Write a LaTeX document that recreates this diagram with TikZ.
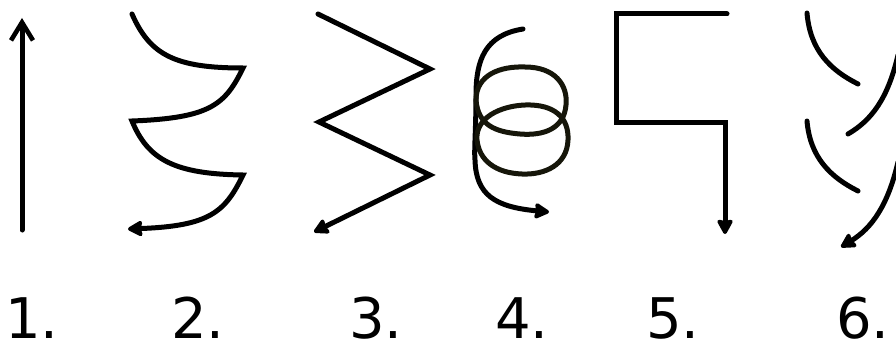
\documentclass[tikz,border=0pt]{standalone}
\usepackage{fontspec}
\setmainfont{DejaVu Sans}
\usetikzlibrary{arrows.meta}
\definecolor{loopink}{RGB}{22,22,10}
\begin{document}
\begin{tikzpicture}[x=1pt,y=-1pt,
  stroke/.style={line width=5pt,line cap=round,line join=miter},
  filltip/.style={-{Stealth[length=17pt,width=18pt,inset=2pt,round]}},
  opentip/.style={-{Straight Barb[length=18pt,width=22pt,line width=4.6pt]}},
  lbl/.style={anchor=base,font=\fontsize{56}{56}\selectfont,inner sep=0pt}]
\useasboundingbox (0,0) rectangle (896,345);
% 1
\draw[stroke,opentip] (22,230) -- (22,18);
% 2
\draw[stroke,filltip] (132,14) .. controls (150,55) and (175,68) .. (243,68)
  .. controls (225,105) and (210,118) .. (132,121)
  .. controls (148,160) and (175,174) .. (243,175)
  .. controls (225,212) and (210,226) .. (128,229);
% 3
\draw[stroke,filltip] (318,14) -- (430,69) -- (319,122) -- (430,175) -- (314,232);
% 4
\draw[stroke,filltip] (523,29) .. controls (485,35) and (476,60) .. (476,95)
  .. controls (476,130) and (474,150) .. (475,160)
  .. controls (476,195) and (495,207) .. (549,212);
\draw[stroke,color=loopink] (476,100) .. controls (476,75) and (500,66) .. (525,67)
  .. controls (555,67) and (568,85) .. (566,105)
  .. controls (564,128) and (545,136) .. (520,134)
  .. controls (495,132) and (478,125) .. (476,100) -- cycle;
\draw[stroke,color=loopink] (477,140) .. controls (475,118) and (500,106) .. (525,105)
  .. controls (555,104) and (569,118) .. (568,140)
  .. controls (567,165) and (545,175) .. (522,174)
  .. controls (495,173) and (479,160) .. (477,140) -- cycle;
% 5
\draw[stroke,filltip] (727,14) -- (616,14) -- (616,122) -- (725,122) -- (725,234);
% 6
\draw[stroke] (807,13) .. controls (810,50) and (830,70) .. (858,84);
\draw[stroke] (898,55) .. controls (888,98) and (872,120) .. (848,134);
\draw[stroke] (807,121) .. controls (810,157) and (830,177) .. (858,191);
\draw[stroke,filltip] (898,162) .. controls (888,205) and (872,228) .. (841,247);
% labels
\node[lbl] (l1) at (32,338) {1.};
\node[lbl] (l2) at (198,338) {2.};
\node[lbl] (l3) at (376,338) {3.};
\node[lbl] (l4) at (522,338) {4.};
\node[lbl] (l5) at (673,338) {5.};
\node[lbl] (l6) at (863,338) {6.};
\end{tikzpicture}
\end{document}
